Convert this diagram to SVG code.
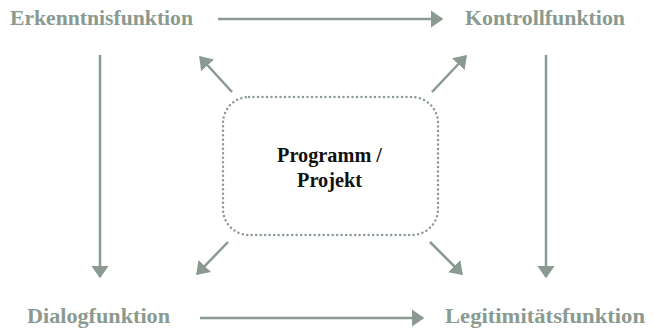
<svg xmlns="http://www.w3.org/2000/svg" width="654" height="332" viewBox="0 0 654 332">
<defs>
<style>
.lbl{font-family:"Liberation Serif","Times New Roman",serif;font-weight:bold;font-size:20px;fill:#8a9a90}
.ctr{font-family:"Liberation Serif","Times New Roman",serif;font-weight:bold;font-size:22px;fill:#111}
.con{stroke:#8a9a90;stroke-width:2.5;fill:none;marker-end:url(#ah)}
</style>
<marker id="ah" viewBox="0 0 10 14" refX="9" refY="7" markerWidth="5" markerHeight="7" orient="auto" markerUnits="strokeWidth">
<path d="M0,0 L10,7 L0,14 Z" fill="#8a9a90"/>
</marker>
</defs>
<rect width="654" height="332" fill="#fff"/>
<g id="connectors">
<line class="con" x1="218" y1="19" x2="442" y2="19"/>
<line class="con" x1="200" y1="318" x2="423" y2="318"/>
<line class="con" x1="100" y1="55" x2="100" y2="277"/>
<line class="con" x1="546" y1="55" x2="546" y2="277"/>
<line class="con" x1="232" y1="92" x2="200" y2="57"/>
<line class="con" x1="432" y1="92" x2="466" y2="56"/>
<line class="con" x1="228" y1="242" x2="197" y2="274"/>
<line class="con" x1="430" y1="242" x2="462" y2="274"/>
</g>
<g id="erkenntnis"><text class="lbl" x="10" y="25" textLength="183" lengthAdjust="spacingAndGlyphs">Erkenntnisfunktion</text></g>
<g id="kontroll"><text class="lbl" x="465" y="25" textLength="160" lengthAdjust="spacingAndGlyphs">Kontrollfunktion</text></g>
<g id="dialog"><text class="lbl" x="27" y="323" textLength="143" lengthAdjust="spacingAndGlyphs">Dialogfunktion</text></g>
<g id="legitimitaet"><text class="lbl" x="445" y="323" textLength="200" lengthAdjust="spacingAndGlyphs">Legitimitätsfunktion</text></g>
<g id="programm">
<rect x="223" y="97" width="215" height="138" rx="26" ry="26" fill="none" stroke="#8a9a90" stroke-width="2.5" stroke-dasharray="0 4.5" stroke-linecap="round"/>
<text class="ctr" x="277" y="162" textLength="105" lengthAdjust="spacingAndGlyphs">Programm /</text>
<text class="ctr" x="297" y="187" textLength="65" lengthAdjust="spacingAndGlyphs">Projekt</text>
</g>
</svg>
